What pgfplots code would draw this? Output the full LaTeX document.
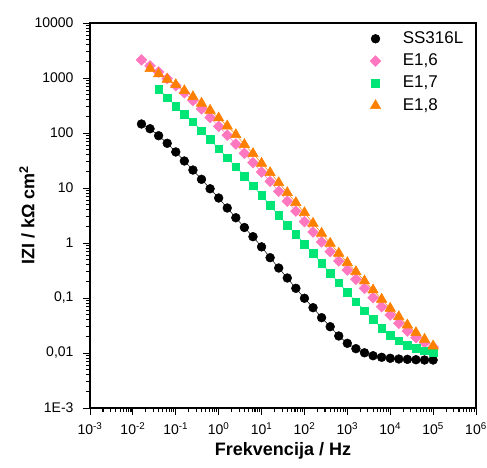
\documentclass[border=0pt]{standalone}
\usepackage{pgfplots}
\pgfplotsset{compat=1.18}
\usepackage{fontspec}
\setmainfont{Liberation Sans}
\definecolor{cpink}{HTML}{FF77BE}
\definecolor{cgreen}{HTML}{00E676}
\definecolor{corange}{HTML}{FF8000}
\begin{document}
\begin{tikzpicture}
\useasboundingbox (-90pt,-59pt) rectangle (397pt,408pt);
\begin{axis}[name=ax, at={(0pt,0pt)}, anchor=south west,
 scale only axis, width=386pt, height=385pt,
 xmode=log, ymode=log,
 xmin=1e-3, xmax=1e6, ymin=1e-3, ymax=1e4,
 xtick={1e-3,1e-2,1e-1,1,1e1,1e2,1e3,1e4,1e5,1e6},
 xticklabels={10\textsuperscript{-3},10\textsuperscript{-2},10\textsuperscript{-1},10\textsuperscript{0},10\textsuperscript{1},10\textsuperscript{2},10\textsuperscript{3},10\textsuperscript{4},10\textsuperscript{5},10\textsuperscript{6}},
 ytick={1e-3,1e-2,1e-1,1,10,100,1000,10000},
 yticklabels={1E-3,{0,01},{0,1},1,10,100,1000,10000},
 tick align=outside, tick pos=left,
 major tick length=7pt, minor tick length=4pt,
 axis line style={line width=1pt, black},
 tick style={line width=0.8pt, black},
 ticklabel style={font=\fontsize{14}{16}\selectfont},
 yticklabel style={xshift=-6pt},
 xticklabel style={yshift=-4pt},
 xlabel={\textbf{Frekvencija / Hz}},
 ylabel={\textbf{IZI / kΩ cm\textsuperscript{2}}},
 label style={font=\fontsize{18}{20}\selectfont},
 xlabel style={at={(axis description cs:0.5,0)}, anchor=center, yshift=-43pt},
 ylabel style={at={(axis description cs:0,0.5)}, anchor=center, yshift=63pt},
 legend style={at={(axis description cs:0.723,0.979)}, anchor=north west, draw=none, fill=none,
   font=\fontsize{17}{20}\selectfont, inner sep=0pt, row sep=7.3pt, column sep=7pt,
   nodes={inner sep=0pt, text height=12pt, text depth=3pt}},
 legend cell align=left,
 legend image code/.code={\draw[#1] plot coordinates {(0pt,0pt)}; \path (-6pt,0pt) (20pt,0pt);},
]
\addplot[black, line width=0.5pt, mark=*, mark size=4.4pt, mark options={solid, fill=black}] coordinates {
(0.01585,145.9) (0.02512,119.7) (0.03981,89.3) (0.0631,65.0) (0.1,45.2) (0.1585,31.0) (0.2512,21.2) (0.3981,14.39) (0.631,9.70) (1,6.58) (1.585,4.33) (2.512,2.88) (3.981,1.914) (6.31,1.303) (10,0.851) (15.85,0.541) (25.12,0.351) (39.81,0.231) (63.1,0.150) (100,0.0989) (158.5,0.0667) (251.2,0.0439) (398.1,0.0301) (631,0.0204) (1000,0.0150) (1585,0.0120) (2512,0.0101) (3981,0.00893) (6310,0.00836) (10000,0.00802) (15850,0.00778) (25120,0.00767) (39810,0.00755) (63100,0.00746) (100000,0.00746)
};
\addlegendentry{SS316L}
\addplot[cpink, line width=0.5pt, mark=square*, mark size=3.8pt, mark options={solid, rotate=45, fill=cpink}] coordinates {
(0.01585,2138) (0.02512,1660) (0.03981,1288) (0.0631,977) (0.1,724) (0.1585,537) (0.2512,389) (0.3981,275) (0.631,191) (1,132) (1.585,91.2) (2.512,63.1) (3.981,42.7) (6.31,28.8) (10,19.5) (15.85,13.2) (25.12,8.71) (39.81,5.75) (63.1,3.80) (100,2.45) (158.5,1.585) (251.2,1.047) (398.1,0.695) (631,0.471) (1000,0.323) (1585,0.219) (2512,0.150) (3981,0.101) (6310,0.0695) (10000,0.0491) (15850,0.0347) (25120,0.0251) (39810,0.0190) (63100,0.0154) (100000,0.01285)
};
\addlegendentry{E1,6}
\addplot[cgreen, line width=0.5pt, mark=square*, mark size=3.8pt, mark options={solid, fill=cgreen}] coordinates {
(0.03981,622) (0.0631,439) (0.1,310) (0.1585,221) (0.2512,160) (0.3981,110) (0.631,76.7) (1,51.9) (1.585,35.6) (2.512,24.4) (3.981,16.4) (6.31,10.9) (10,7.36) (15.85,4.84) (25.12,3.19) (39.81,2.12) (63.1,1.44) (100,0.959) (158.5,0.650) (251.2,0.427) (398.1,0.281) (631,0.190) (1000,0.127) (1585,0.0857) (2512,0.0587) (3981,0.0410) (6310,0.0281) (10000,0.0212) (15850,0.0167) (25120,0.0140) (39810,0.0122) (63100,0.0110) (100000,0.0101)
};
\addlegendentry{E1,7}
\addplot[corange, line width=0.5pt, mark=triangle*, mark size=6pt, mark options={solid, fill=corange}] coordinates {
(0.02512,1479) (0.03981,1183) (0.0631,946) (0.1,755) (0.1585,587) (0.2512,457) (0.3981,347) (0.631,259) (1,187.5) (1.585,134) (2.512,93.1) (3.981,61.7) (6.31,42.2) (10,28.1) (15.85,18.97) (25.12,12.47) (39.81,8.22) (63.1,5.41) (100,3.56) (158.5,2.28) (251.2,1.50) (398.1,0.989) (631,0.650) (1000,0.439) (1585,0.301) (2512,0.204) (3981,0.140) (6310,0.0946) (10000,0.0650) (15850,0.0457) (25120,0.0323) (39810,0.0234) (63100,0.0177) (100000,0.0134)
};
\addlegendentry{E1,8}
\end{axis}
% axis frame and tick marks as filled shapes
\fill[black] (-0.6pt,-0.6pt) rectangle (386.6pt,0.6pt);
\fill[black] (-0.6pt,384.4pt) rectangle (386.6pt,385.6pt);
\fill[black] (-0.6pt,-0.6pt) rectangle (0.6pt,385.6pt);
\fill[black] (385.4pt,-0.6pt) rectangle (386.6pt,385.6pt);
\foreach \e in {0,...,9} \fill[black] ({\e*42.8889pt-0.45pt},0pt) rectangle ({\e*42.8889pt+0.45pt},-7pt);
\foreach \e in {0,...,8} \foreach \m in {2,...,9} \fill[black] ({(\e+log10(\m))*42.8889pt-0.45pt},0pt) rectangle ({(\e+log10(\m))*42.8889pt+0.45pt},-4pt);
\foreach \e in {0,...,7} \fill[black] (0pt,{\e*55pt-0.45pt}) rectangle (-7pt,{\e*55pt+0.45pt});
\foreach \e in {0,...,6} \foreach \m in {2,...,9} \fill[black] (0pt,{(\e+log10(\m))*55pt-0.45pt}) rectangle (-4pt,{(\e+log10(\m))*55pt+0.45pt});
\end{tikzpicture}
\end{document}
